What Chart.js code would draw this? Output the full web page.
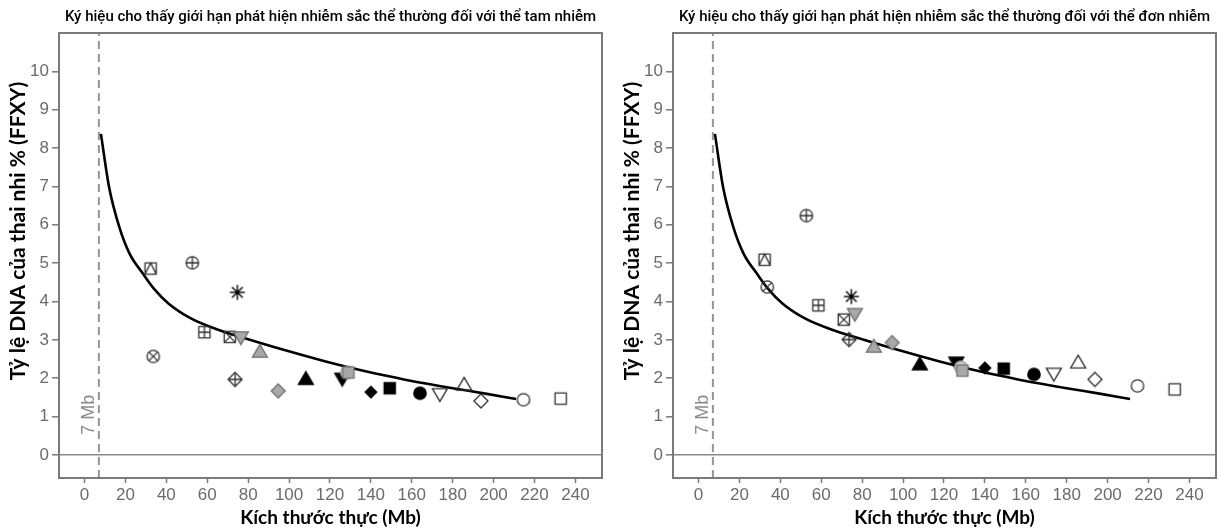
<!DOCTYPE html>
<html><head><meta charset="utf-8">
<script src="https://cdn.jsdelivr.net/npm/chart.js@4.4.1/dist/chart.umd.min.js"></script>
<style>
html,body{margin:0;padding:0;background:#fff;overflow:hidden;width:1219px;height:531px}
canvas{position:absolute;top:0}
#c1{left:0}
#c2{left:614px}
</style></head><body>
<canvas id="c1" width="610" height="531"></canvas>
<canvas id="c2" width="610" height="531"></canvas>
<script>
// ---------- data ----------
const titleLeft = 'Ký hiệu cho thấy giới hạn phát hiện nhiễm sắc thể thường đối với thể tam nhiễm';
const titleRight = 'Ký hiệu cho thấy giới hạn phát hiện nhiễm sắc thể thường đối với thể đơn nhiễm';
const xTitle = 'Kích thước thực (Mb)';
const yTitle = 'Tỷ lệ DNA của thai nhi % (FFXY)';
const limitLabel = '7 Mb';
const limitMb = 7;
const xTicks = [0, 20, 40, 60, 80, 100, 120, 140, 160, 180, 200, 220, 240];
const yTicks = [0, 1, 2, 3, 4, 5, 6, 7, 8, 9, 10];
const markerKinds = ['sqTri','circPlus','asterisk','sqPlus','sqX','triDownGray','triUpGray','circX','diamPlus','diamGray','triUpBlack','triDownBlack','circLight','sqGray','diamBlack','sqBlack','circBlack','triDownOpen','triUpOpen','diamOpen','circOpen','sqOpen'];
const sizesMb    = [32.3, 52.7, 74.7, 58.6, 71.0, 76.4, 85.7, 33.6, 73.6, 94.7, 108.2, 126.0, 128.2, 129.0, 140.0, 149.2, 164.0, 173.7, 185.6, 193.8, 214.6, 232.8];
const trisomyFF  = [4.86, 5.01, 4.24, 3.20, 3.08, 3.05, 2.71, 2.57, 1.97, 1.67, 2.00, 1.97, 2.15, 2.15, 1.64, 1.74, 1.61, 1.57, 1.85, 1.41, 1.44, 1.47];
const monosomyFF = [5.09, 6.24, 4.13, 3.90, 3.53, 3.66, 2.84, 4.38, 3.01, 2.93, 2.38, 2.39, 2.29, 2.20, 2.27, 2.25, 2.10, 2.10, 2.43, 1.97, 1.80, 1.71];
const curveMb = [8, 12, 17, 22, 28.5, 34, 41, 52, 66, 76, 96, 117, 131, 147, 158, 180, 196, 211];
const curveFF = [8.37, 6.98, 5.94, 5.25, 4.73, 4.33, 3.95, 3.56, 3.25, 3.08, 2.76, 2.45, 2.26, 2.07, 1.95, 1.74, 1.60, 1.46];

// ---------- marker images ----------
function makeMarker(kind) {
  const S = 22, c = document.createElement('canvas');
  c.width = S; c.height = S;
  const g = c.getContext('2d');
  g.translate(S / 2, S / 2);
  g.lineWidth = 1.3;
  const dark = '#2e2e2e', grayF = '#a8a8a8', grayS = '#707070';
  const specs = {
    sqTri: ['sq', null, dark, 'tri'], circPlus: ['circ', null, dark, 'plus'], sqPlus: ['sq', null, dark, 'plus'],
    sqX: ['sq', null, dark, 'x'], circX: ['circ', null, dark, 'x'], diamPlus: ['diam', null, dark, 'plus'],
    triDownGray: ['triDown', grayF, grayS], triUpGray: ['triUp', grayF, grayS], diamGray: ['diam', grayF, grayS],
    sqGray: ['sq', grayF, grayS], circLight: ['circ', '#cfcfcf', '#9a9a9a'],
    triUpBlack: ['triUp', '#000', '#000'], triDownBlack: ['triDown', '#000', '#000'], diamBlack: ['diamS', '#000', '#000'],
    sqBlack: ['sq', '#000', '#000'], circBlack: ['circ', '#000', '#000'],
    triDownOpen: ['triDown', null, dark], triUpOpen: ['triUp', null, dark], diamOpen: ['diam', null, dark],
    circOpen: ['circ', null, dark], sqOpen: ['sq', null, dark]
  };
  if (kind === 'asterisk') {
    g.strokeStyle = '#000'; g.lineWidth = 1.4;
    for (let k = 0; k < 4; k++) {
      const a = k * Math.PI / 4;
      g.beginPath(); g.moveTo(-7.5 * Math.cos(a), -7.5 * Math.sin(a)); g.lineTo(7.5 * Math.cos(a), 7.5 * Math.sin(a)); g.stroke();
    }
    g.beginPath(); g.arc(0, 0, 2, 0, 2 * Math.PI); g.fillStyle = '#000'; g.fill();
    return c;
  }
  const [shape, fill, stroke, inner] = specs[kind];
  g.beginPath();
  if (shape === 'circ') g.arc(0, 0, 6.2, 0, 2 * Math.PI);
  else if (shape === 'sq') g.rect(-5.6, -5.6, 11.2, 11.2);
  else if (shape === 'triUp') { g.moveTo(0, -6.6); g.lineTo(7.5, 6.2); g.lineTo(-7.5, 6.2); g.closePath(); }
  else if (shape === 'triDown') { g.moveTo(0, 6.6); g.lineTo(7.5, -6.2); g.lineTo(-7.5, -6.2); g.closePath(); }
  else if (shape === 'diam') { g.moveTo(0, -7); g.lineTo(7, 0); g.lineTo(0, 7); g.lineTo(-7, 0); g.closePath(); }
  else if (shape === 'diamS') { g.moveTo(0, -5.8); g.lineTo(5.8, 0); g.lineTo(0, 5.8); g.lineTo(-5.8, 0); g.closePath(); }
  if (fill) { g.fillStyle = fill; g.fill(); }
  g.strokeStyle = stroke; g.stroke();
  if (inner) {
    g.beginPath();
    if (inner === 'plus') {
      const r = shape === 'sq' ? 5.6 : (shape === 'diam' ? 7 : 6.2);
      g.moveTo(-r, 0); g.lineTo(r, 0); g.moveTo(0, -r); g.lineTo(0, r);
    } else if (inner === 'x') {
      const r = shape === 'sq' ? 5.6 : 4.38;
      g.moveTo(-r, -r); g.lineTo(r, r); g.moveTo(r, -r); g.lineTo(-r, r);
    } else if (inner === 'tri') {
      g.moveTo(-5.6, 5.6); g.lineTo(0, -5.6); g.lineTo(5.6, 5.6);
    }
    g.strokeStyle = stroke; g.stroke();
  }
  return c;
}
const markerImages = markerKinds.map(makeMarker);

// ---------- decoration plugin ----------
const decor = {
  id: 'decor',
  afterDraw(chart, args, opts) {
    const { ctx, chartArea: a, scales } = chart;
    ctx.save();
    // frame
    ctx.strokeStyle = '#7a7a7a'; ctx.lineWidth = 2;
    ctx.strokeRect(a.left, a.top, a.right - a.left, a.bottom - a.top);
    // 7 Mb label
    ctx.fillStyle = '#8a8a8a';
    ctx.font = '18px "Liberation Sans", Arial, sans-serif';
    ctx.textAlign = 'center'; ctx.textBaseline = 'middle';
    ctx.translate(scales.x.getPixelForValue(limitMb) - 10, scales.y.getPixelForValue(1.05));
    ctx.rotate(-Math.PI / 2);
    ctx.fillText(limitLabel, 0, 0);
    ctx.restore();
    ctx.save();
    ctx.fillStyle = '#000';
    // chart title
    ctx.font = '500 15px Roboto, sans-serif';
    ctx.textAlign = 'center'; ctx.textBaseline = 'middle';
    ctx.fillText(opts.title, (a.left + a.right) / 2, 17);
    // x title
    ctx.font = 'bold 19px Lato, sans-serif';
    ctx.fillText(xTitle, (a.left + a.right) / 2, 518);
    // y title
    ctx.translate(18, 231);
    ctx.rotate(-Math.PI / 2);
    ctx.font = 'bold 21px Lato, sans-serif';
    ctx.fillText(yTitle, 0, 0);
    ctx.restore();
  }
};

function makeChart(id, values, title) {
  const points = sizesMb.map((x, i) => ({ x: x, y: values[i] }));
  const curve = curveMb.map((x, i) => ({ x: x, y: curveFF[i] }));
  const tickFont = { family: '"Liberation Sans", Arial, sans-serif', size: 17 };
  return new Chart(document.getElementById(id), {
    type: 'scatter',
    data: {
      datasets: [
        { data: points, pointStyle: markerImages, pointRadius: 7, pointHoverRadius: 7 },
        { type: 'line', data: curve, showLine: true, borderColor: '#000', borderWidth: 2.6, pointRadius: 0,
          cubicInterpolationMode: 'monotone', fill: false },
        { type: 'line', data: [{ x: limitMb, y: -0.6 }, { x: limitMb, y: 11 }], showLine: true, borderColor: '#959595',
          borderWidth: 2, borderDash: [8, 5], pointRadius: 0, fill: false }
      ]
    },
    options: {
      responsive: false, animation: false, devicePixelRatio: 1,
      layout: { padding: { left: 0, right: 7, top: 33, bottom: 0 } },
      plugins: { legend: { display: false }, tooltip: { enabled: false }, decor: { title: title } },
      scales: {
        x: {
          type: 'linear', min: -12.5, max: 253,
          afterBuildTicks: s => { s.ticks = xTicks.map(v => ({ value: v })); },
          afterFit: s => { s.height = 53; },
          ticks: { color: '#6b6b6b', font: tickFont, padding: 2, maxRotation: 0 },
          grid: { drawOnChartArea: false, drawTicks: true, tickLength: 5, tickColor: '#7a7a7a', tickWidth: 1.5 },
          border: { display: false }
        },
        y: {
          type: 'linear', min: -0.6, max: 11,
          afterBuildTicks: s => { s.ticks = yTicks.map(v => ({ value: v })); },
          afterFit: s => { s.width = 59; },
          ticks: { color: '#6b6b6b', font: tickFont, padding: 3 },
          grid: { drawOnChartArea: true, color: c => (c.tick && c.tick.value === 0) ? '#8a8a8a' : 'rgba(0,0,0,0)',
                  lineWidth: 1.6, drawTicks: true, tickLength: 7, tickColor: '#7a7a7a', tickWidth: 1.5 },
          border: { display: false }
        }
      }
    },
    plugins: [decor]
  });
}
makeChart('c1', trisomyFF, titleLeft);
makeChart('c2', monosomyFF, titleRight);
</script></body></html>
